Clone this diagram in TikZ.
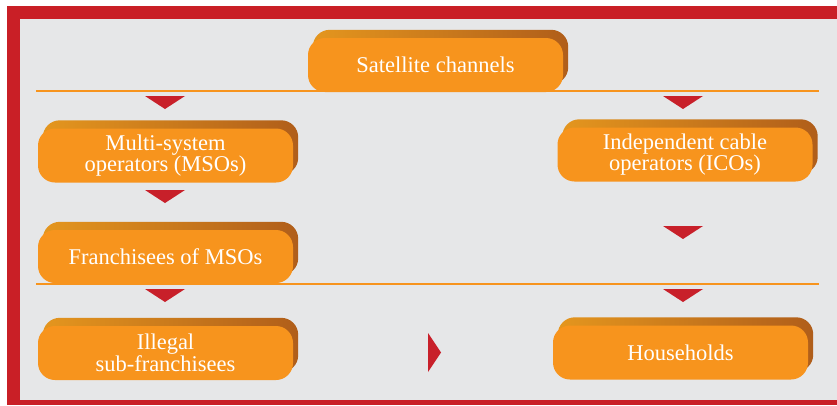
\documentclass[tikz,border=0pt]{standalone}
\usepackage{fontspec}
\setmainfont{Liberation Serif}
\usepackage{tikz}
\usetikzlibrary{backgrounds}

\definecolor{frame}{HTML}{C91F26}
\definecolor{panel}{HTML}{E6E7E8}
\definecolor{boxorange}{HTML}{F7941D}
\definecolor{backlight}{HTML}{E4961E}
\definecolor{backdark}{HTML}{B05E1A}
\definecolor{trired}{HTML}{C8202A}

\tikzset{
  box/.style={rectangle, rounded corners=17pt, fill=boxorange, text=white,
    minimum width=255pt, minimum height=54pt, inner sep=0pt, align=center,
    font=\fontsize{22.5}{21.5}\selectfont},
  rule/.style={draw=boxorange, line width=2pt},
  downtri/.style={fill=trired}
}

\newcommand{\boxback}[1]{%
  \shade[rounded corners=17pt, left color=backlight, right color=backdark]
    ([shift={(5,-8)}]#1.south west) rectangle ([shift={(5,-8)}]#1.north east);}
\newcommand{\tridown}[2]{\fill[downtri] (#1-20,#2) -- ++(40,0) -- ++(-20,13) -- cycle;}

\begin{document}
\begin{tikzpicture}[x=1pt, y=-1pt]
\useasboundingbox (0,0) rectangle (837,405);

% boxes
\node[box] (sat) at (435.5,65) {Satellite channels};
\node[box] (mso) at (165.5,155.5) {Multi-system\\operators (MSOs)};
\node[box] (ico) at (685,154.5) {Independent cable\\operators (ICOs)};
\node[box, minimum height=53pt] (fra) at (165.5,256.5) {Franchisees of MSOs};
\node[box] (ill) at (165.5,353) {Illegal\\sub-franchisees};
\node[box] (hh) at (680.5,352.5) {Households};

\begin{scope}[on background layer]
  % frame and panel
  \fill[white] (0,0) rectangle (837,405);
  \fill[frame] (7,6) rectangle (837,405);
  \fill[panel] (20,19) rectangle (837,400);
  % rules
  \draw[rule] (36,91) -- (819,91);
  \draw[rule] (36,284) -- (819,284);
  % raised backs
  \boxback{sat} \boxback{mso} \boxback{ico} \boxback{fra} \boxback{ill} \boxback{hh}
\end{scope}

% markers
\tridown{165}{96}
\tridown{683}{96}
\tridown{165}{190}
\tridown{683}{226}
\tridown{165}{289}
\tridown{683}{289}
\fill[downtri] (428,333) -- (441,352.5) -- (428,372) -- cycle;
\end{tikzpicture}
\end{document}
